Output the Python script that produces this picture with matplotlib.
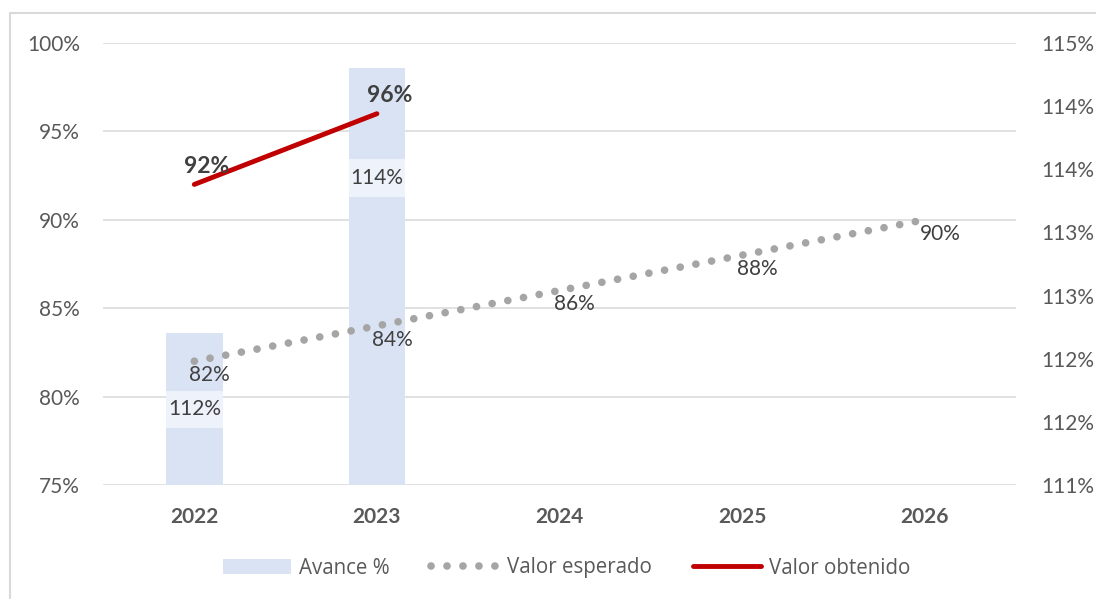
import math
import numpy as np
import matplotlib
matplotlib.use('Agg')
import matplotlib.pyplot as plt
from matplotlib.patches import Rectangle, Patch
from matplotlib.lines import Line2D

plt.rcParams['font.family'] = ['Lato', 'DejaVu Sans']

# Datos
years = ['2022', '2023', '2024', '2025', '2026']
avance = [112.2, 114.3]            # eje derecho
avance_labels = ['112%', '114%']
esperado = [82, 84, 86, 88, 90]    # eje izquierdo
obtenido = [92, 96]

left_ticks = [75, 80, 85, 90, 95, 100]
right_ticks = [111.0, 111.5, 112.0, 112.5, 113.0, 113.5, 114.0, 114.5]

bar_color = '#DAE3F3'
gray = '#A5A5A5'
red = '#C00000'
txt = '#595959'
dark = '#404040'
dots = (0, (0.01, 2.08))

x = np.arange(len(years))

fig = plt.figure(figsize=(10.96, 5.99), dpi=100)
rect = [103 / 1096, 1 - 485 / 599, 913 / 1096, 442 / 599]

# capa 1: rejilla + eje izquierdo + años
ax = fig.add_axes(rect)
ax.set_zorder(0)
# capa 2: barras (eje derecho)
ax2 = fig.add_axes(rect, sharex=ax)
ax2.set_zorder(1)
ax2.patch.set_visible(False)
# capa 3: lineas (eje izquierdo)
ax3 = fig.add_axes(rect, sharex=ax, sharey=ax)
ax3.set_zorder(2)
ax3.patch.set_visible(False)

for a in (ax, ax2, ax3):
    for s in a.spines.values():
        s.set_visible(False)

ax.set_xlim(-0.5, 4.5)
ax.set_ylim(75, 100)
ax.set_xticks(x)
ax.set_xticklabels(years, fontsize=15, fontweight='bold', color=txt)
ax.set_yticks(left_ticks)
ax.set_yticklabels([f'{v}%' for v in left_ticks], fontsize=15, color=txt)
ax.tick_params(axis='y', length=0, pad=16.5)
ax.tick_params(axis='x', length=0, pad=16)
ax.grid(axis='y', color='#D9D9D9', lw=1.1)

# barras
ax2.set_ylim(111, 114.5)
ax2.bar(x[:len(avance)], avance, width=0.31, color=bar_color)
ax2.yaxis.tick_right()
ax2.set_yticks(right_ticks)
ax2.set_yticklabels([f'{math.floor(v + 0.5)}%' for v in right_ticks], fontsize=15, color=txt)
ax2.tick_params(axis='y', length=0, pad=18.5)
ax2.tick_params(axis='x', bottom=False, labelbottom=False)

box_y = [111.598, 113.431]
for i, lab in enumerate(avance_labels):
    ax2.add_patch(Rectangle((i - 0.155, box_y[i] - 0.147), 0.31, 0.294,
                            facecolor='#EEF2FA', edgecolor='none', zorder=3))
    ax2.text(i, box_y[i], lab, ha='center', va='center', fontsize=15, color=dark, zorder=4)

# lineas
ax3.plot(x, esperado, color=gray, lw=5.5, linestyle=dots, dash_capstyle='round')
ax3.plot(x[:len(obtenido)], obtenido, color=red, lw=3.5, solid_capstyle='round')
ax3.tick_params(left=False, labelleft=False, bottom=False, labelbottom=False)

for xi, v in zip(x, esperado):
    ax3.annotate(f'{v}%', (xi, v), xytext=(11, -10), textcoords='offset points',
                 ha='center', va='center', fontsize=15, color=dark)
for xi, v in zip(x, obtenido):
    ax3.annotate(f'{v}%', (xi, v), xytext=(9, 13), textcoords='offset points',
                 ha='center', va='center', fontsize=16.5, fontweight='bold', color=dark)

# leyenda
handles = [
    Patch(facecolor=bar_color, edgecolor='none'),
    Line2D([], [], color=gray, lw=5.5, linestyle=dots, dash_capstyle='round'),
    Line2D([], [], color=red, lw=3.5, solid_capstyle='round'),
]
leg = fig.legend(handles, ['Avance %', 'Valor esperado', 'Valor obtenido'],
                 loc='center', bbox_to_anchor=(567 / 1096, 1 - 568 / 599), ncol=3,
                 frameon=False, handlelength=3.3, handletextpad=0.4, columnspacing=2.0,
                 prop={'family': 'Open Sans', 'size': 14.8})
for t in leg.get_texts():
    t.set_color(txt)

# marco del grafico
fig.patches.append(Rectangle((10 / 1096, -0.02), 1.02, 1 - 13 / 599 + 0.02,
                             transform=fig.transFigure, fill=False,
                             edgecolor='#D9D9D9', lw=1.5))

fig.savefig('out.png', dpi=100)
